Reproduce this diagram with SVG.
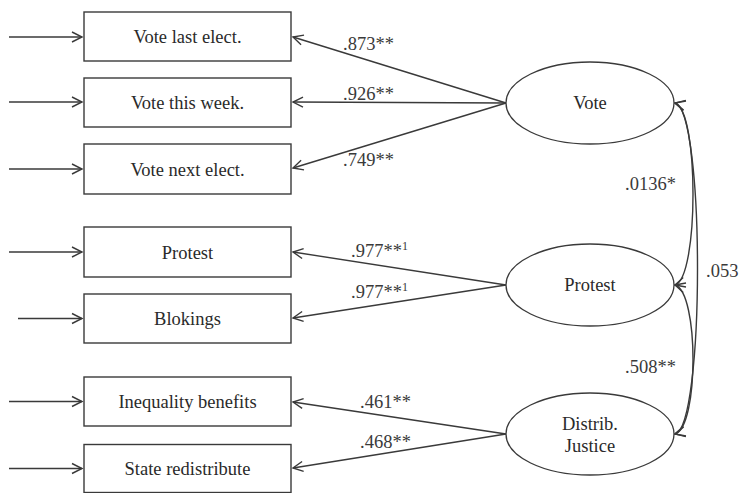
<svg xmlns="http://www.w3.org/2000/svg" width="739" height="493" viewBox="0 0 739 493">
<style>
.box{fill:#fff;stroke:#3a3a3a;stroke-width:1.4}
.ell{fill:#fff;stroke:#3a3a3a;stroke-width:1.3}
.t{font-size:18.5px;fill:#2a2a2a;text-anchor:middle}
.lb{font-size:18.5px;fill:#3a3a3a}
.ln{fill:none;stroke:#3a3a3a;stroke-width:1.4}
</style>
<defs>
<marker id="ah" markerUnits="userSpaceOnUse" markerWidth="14" markerHeight="14" viewBox="-12 -7 14 14" refX="0" refY="0" orient="auto-start-reverse">
<path d="M-10,-5 L0,0 L-10,5" fill="none" stroke="#3a3a3a" stroke-width="1.4"/>
</marker>
</defs>
<g id="connectors">
<line class="ln" x1="9" y1="37" x2="82" y2="37" marker-end="url(#ah)"/>
<line class="ln" x1="9" y1="102" x2="82" y2="102" marker-end="url(#ah)"/>
<line class="ln" x1="9" y1="169" x2="82" y2="169" marker-end="url(#ah)"/>
<line class="ln" x1="9" y1="252" x2="82" y2="252" marker-end="url(#ah)"/>
<line class="ln" x1="18" y1="318.5" x2="82" y2="318.5" marker-end="url(#ah)"/>
<line class="ln" x1="9" y1="401.5" x2="82" y2="401.5" marker-end="url(#ah)"/>
<line class="ln" x1="9" y1="468.5" x2="82" y2="468.5" marker-end="url(#ah)"/>
<line class="ln" x1="506" y1="103" x2="293" y2="37" marker-end="url(#ah)"/>
<line class="ln" x1="506" y1="103" x2="293" y2="102" marker-end="url(#ah)"/>
<line class="ln" x1="506" y1="103" x2="293" y2="168" marker-end="url(#ah)"/>
<line class="ln" x1="506" y1="285" x2="293" y2="252" marker-end="url(#ah)"/>
<line class="ln" x1="506" y1="285" x2="293" y2="318" marker-end="url(#ah)"/>
<line class="ln" x1="506" y1="434" x2="293" y2="402" marker-end="url(#ah)"/>
<line class="ln" x1="506" y1="434" x2="293" y2="468" marker-end="url(#ah)"/>
<path class="ln" d="M675,103 C699,110 699,278 675,285" marker-start="url(#ah)" marker-end="url(#ah)"/>
<path class="ln" d="M675,285 C699,292 699,427 675,434" marker-start="url(#ah)" marker-end="url(#ah)"/>
<path class="ln" d="M675,103 C705,110 705,427 675,434" marker-start="url(#ah)" marker-end="url(#ah)"/>
<g font-family="Liberation Serif, DejaVu Serif, serif">
<text class="lb" x="343" y="50">.873**</text>
<text class="lb" x="343" y="100">.926**</text>
<text class="lb" x="343" y="166">.749**</text>
<text class="lb" x="351" y="257">.977**<tspan font-size="12" dy="-7">1</tspan></text>
<text class="lb" x="351" y="298">.977**<tspan font-size="12" dy="-7">1</tspan></text>
<text class="lb" x="360" y="408">.461**</text>
<text class="lb" x="360" y="448">.468**</text>
<text class="lb" x="625" y="190">.0136*</text>
<text class="lb" x="706" y="277">.053</text>
<text class="lb" x="625" y="373">.508**</text>
</g>
</g>
<g font-family="Liberation Serif, DejaVu Serif, serif">
<g id="n_vote_last"><rect class="box" x="84" y="12" width="207" height="49"/><text class="t" x="187.5" y="43">Vote last elect.</text></g>
<g id="n_vote_this"><rect class="box" x="84" y="78" width="207" height="49"/><text class="t" x="187.5" y="109">Vote this week.</text></g>
<g id="n_vote_next"><rect class="box" x="84" y="144" width="207" height="50"/><text class="t" x="187.5" y="175.5">Vote next elect.</text></g>
<g id="n_protest_obs"><rect class="box" x="84" y="227" width="207" height="50"/><text class="t" x="187.5" y="258.5">Protest</text></g>
<g id="n_blokings"><rect class="box" x="84" y="294" width="207" height="49"/><text class="t" x="187.5" y="325">Blokings</text></g>
<g id="n_inequality"><rect class="box" x="84" y="377" width="207" height="49"/><text class="t" x="187.5" y="408">Inequality benefits</text></g>
<g id="n_state"><rect class="box" x="84" y="444.5" width="207" height="48"/><text class="t" x="187.5" y="475">State redistribute</text></g>
<g id="n_vote"><ellipse class="ell" cx="590" cy="103" rx="84" ry="41"/><text class="t" x="590" y="109">Vote</text></g>
<g id="n_protest"><ellipse class="ell" cx="590" cy="285" rx="84" ry="41"/><text class="t" x="590" y="291">Protest</text></g>
<g id="n_distrib"><ellipse class="ell" cx="590" cy="434" rx="84" ry="41"/><text class="t" x="590" y="430">Distrib.</text><text class="t" x="590" y="452">Justice</text></g>
</g>
</svg>
